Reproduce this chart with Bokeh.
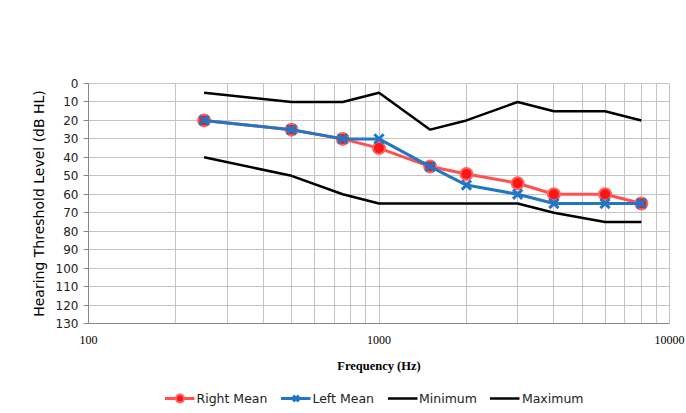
from bokeh.plotting import figure
from bokeh.models import Range1d, FixedTicker, Legend, LegendItem
from bokeh.layouts import column
from bokeh.embed import file_html
from bokeh.resources import INLINE

freqs = [250, 500, 750, 1000, 1500, 2000, 3000, 4000, 6000, 8000]
right_mean = [20, 25, 30, 35, 45, 49, 54, 60, 60, 65]
left_mean = [20, 25, 30, 30, 45, 55, 60, 65, 65, 65]
minimum = [5, 10, 10, 5, 25, 20, 10, 15, 15, 20]
maximum = [40, 50, 60, 65, 65, 65, 65, 70, 75, 75]

x_major_ticks = [100, 1000, 10000]
x_minor_ticks = [200, 300, 400, 500, 600, 700, 800, 900,
                 2000, 3000, 4000, 5000, 6000, 7000, 8000, 9000]
y_ticks = [0, 10, 20, 30, 40, 50, 60, 70, 80, 90, 100, 110, 120, 130]

GRID = "#c4c4c4"
RED_LINE = "#ff5050"
BLUE = "#2276c4"

p = figure(frame_width=581, frame_height=240, x_axis_type="log",
           x_range=Range1d(100, 10000), y_range=Range1d(130, 0),
           output_backend="svg", toolbar_location=None,
           min_border_left=79, min_border_right=26,
           min_border_top=83, min_border_bottom=60)
p.background_fill_color = "white"
p.border_fill_color = "white"
p.outline_line_color = GRID

# axes
p.xaxis.ticker = FixedTicker(ticks=x_major_ticks, minor_ticks=x_minor_ticks)
p.yaxis.ticker = FixedTicker(ticks=y_ticks)
p.xaxis.major_label_overrides = {100: "100", 1000: "1000", 10000: "10000"}
p.xaxis.axis_label = "Frequency (Hz)"
p.yaxis.axis_label = "Hearing Threshold Level (dB HL)"

p.xaxis.axis_label_text_font = "Liberation Serif"
p.xaxis.axis_label_text_font_style = "bold"
p.xaxis.axis_label_text_font_size = "12.5px"
p.xaxis.axis_label_text_color = "black"
p.xaxis.major_label_text_font = "Liberation Serif"
p.xaxis.major_label_text_font_size = "12px"
p.xaxis.major_label_text_color = "black"
p.xaxis.major_tick_out = 0
p.xaxis.major_tick_in = 0
p.xaxis.minor_tick_out = 0
p.xaxis.minor_tick_in = 0
p.xaxis.major_label_standoff = 12
p.xaxis.axis_label_standoff = 12
p.xaxis.axis_line_color = "#888888"

p.yaxis.axis_label_text_font = "DejaVu Sans"
p.yaxis.axis_label_text_font_style = "normal"
p.yaxis.axis_label_text_font_size = "14px"
p.yaxis.axis_label_text_color = "black"
p.yaxis.major_label_text_font = "DejaVu Sans"
p.yaxis.major_label_text_font_size = "12px"
p.yaxis.major_label_text_color = "#222222"
p.yaxis.major_tick_out = 5
p.yaxis.major_tick_in = 0
p.yaxis.minor_tick_out = 0
p.yaxis.minor_tick_in = 0
p.yaxis.major_label_standoff = 5
p.yaxis.axis_label_standoff = 6
p.yaxis.axis_line_color = "#888888"
p.yaxis.major_tick_line_color = "#888888"

p.xgrid.grid_line_color = GRID
p.xgrid.minor_grid_line_color = GRID
p.ygrid.grid_line_color = GRID

# series
p.line(freqs, right_mean, line_color=RED_LINE, line_width=3)
p.scatter(freqs, right_mean, marker="circle", size=12,
          fill_color="#ff1414", line_color="#ff6464", line_width=2)
p.line(freqs, left_mean, line_color=BLUE, line_width=3)
p.scatter(freqs, left_mean, marker="x", size=13, line_color=BLUE, line_width=3)
p.line(freqs, minimum, line_color="black", line_width=2.5)
p.line(freqs, maximum, line_color="black", line_width=2.5)

# legend strip below the chart (its renderers sit outside its visible range)
leg = figure(width=686, height=30, x_range=Range1d(0, 1), y_range=Range1d(0, 1),
             output_backend="svg", toolbar_location=None,
             x_axis_location=None, y_axis_location=None,
             min_border_left=88, min_border_right=0,
             min_border_top=0, min_border_bottom=0)
leg.grid.visible = False
leg.outline_line_color = None
leg.background_fill_color = "white"
leg.border_fill_color = "white"

lr_line = leg.line(freqs, right_mean, line_color=RED_LINE, line_width=3)
lr_pts = leg.scatter(freqs, right_mean, marker="circle", size=9,
                     fill_color="#ff1414", line_color="#ff6464", line_width=2)
ll_line = leg.line(freqs, left_mean, line_color=BLUE, line_width=3)
ll_pts = leg.scatter(freqs, left_mean, marker="x", size=9, line_color=BLUE, line_width=3)
lmn = leg.line(freqs, minimum, line_color="black", line_width=2.5)
lmx = leg.line(freqs, maximum, line_color="black", line_width=2.5)

legend = Legend(items=[
    LegendItem(label="Right Mean", renderers=[lr_line, lr_pts]),
    LegendItem(label="Left Mean", renderers=[ll_line, ll_pts]),
    LegendItem(label="Minimum", renderers=[lmn]),
    LegendItem(label="Maximum", renderers=[lmx]),
], orientation="horizontal", location="center")
legend.label_text_font = "DejaVu Sans"
legend.label_text_font_size = "12.5px"
legend.label_text_color = "#222222"
legend.glyph_width = 30
legend.glyph_height = 20
legend.label_standoff = 2
legend.spacing = 13
legend.padding = 4
legend.margin = 0
legend.border_line_color = None
legend.background_fill_alpha = 0
leg.add_layout(legend, "center")

layout = column(p, leg, spacing=0)

open("out.html", "w").write(file_html(layout, INLINE))
